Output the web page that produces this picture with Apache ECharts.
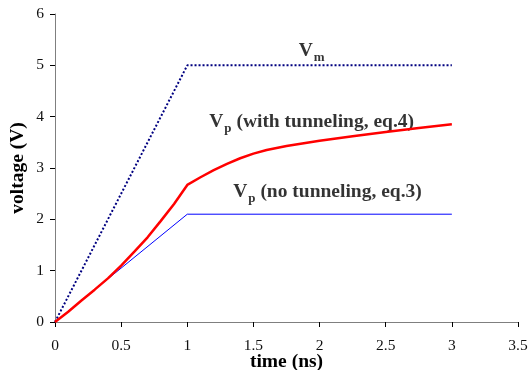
<!DOCTYPE html>
<html>
<head>
<meta charset="utf-8">
<script src="https://cdn.jsdelivr.net/npm/echarts@6/dist/echarts.min.js"></script>
<style>html,body{margin:0;padding:0;background:#fff;}#c{width:530px;height:370px;}</style>
</head>
<body>
<div id="c"></div>
<script>
var xTicks = [0, 0.5, 1, 1.5, 2, 2.5, 3, 3.5];
var yTicks = [0, 1, 2, 3, 4, 5, 6];

var vmX = [0, 1, 3];
var vmY = [0, 5, 5];

var vpNoX = [0, 1, 3];
var vpNoY = [0, 2.1, 2.1];

var vpTunX = [0, 0.1, 0.2, 0.3, 0.4, 0.5, 0.6, 0.7, 0.8, 0.9, 1.0, 1.1, 1.2, 1.3, 1.4, 1.5, 1.6, 1.75, 2.0, 2.25, 2.5, 2.75, 3.0];
var vpTunY = [0, 0.2, 0.42, 0.63, 0.85, 1.1, 1.37, 1.65, 1.97, 2.3, 2.67, 2.82, 2.96, 3.08, 3.19, 3.28, 3.35, 3.43, 3.53, 3.62, 3.70, 3.78, 3.85];

var annX = [1.94, 1.94, 2.06];
var annY = [5.28, 3.90, 2.53];
var annMain = ['V', 'V', 'V'];
var annSub = ['m', 'p', 'p'];
var annRest = ['', ' (with tunneling, eq.4)', ' (no tunneling, eq.3)'];

function zip(xs, ys) { return xs.map(function (x, i) { return [x, ys[i]]; }); }

var serif = '"Liberation Serif", "Times New Roman", serif';
var chart = echarts.init(document.getElementById('c'));
chart.setOption({
  animation: false,
  backgroundColor: '#fff',
  grid: { left: 55, right: 12, top: 14, bottom: 48, containLabel: false, outerBoundsMode: 'none' },
  xAxis: {
    type: 'value', min: 0, max: 3.5, interval: 0.5,
    name: 'time (ns)', nameLocation: 'middle', nameGap: 30, nameMoveOverlap: false,
    nameTextStyle: { fontFamily: serif, fontWeight: 'bold', fontSize: 19.5, color: '#000' },
    axisLine: { show: true, lineStyle: { color: '#7f7f7f', width: 1 } },
    axisTick: { show: true, length: 5, inside: false, lineStyle: { color: '#000' } },
    axisLabel: { fontFamily: serif, fontSize: 15.5, color: '#111', margin: 16,
      formatter: function (v) { return xTicks.indexOf(v) >= 0 ? String(v) : ''; } },
    splitLine: { show: false }
  },
  yAxis: {
    type: 'value', min: 0, max: 6, interval: 1,
    name: 'voltage (V)', nameLocation: 'middle', nameGap: 27, nameRotate: 90, nameMoveOverlap: false,
    nameTextStyle: { fontFamily: serif, fontWeight: 'bold', fontSize: 19.5, color: '#000' },
    axisLine: { show: true, lineStyle: { color: '#7f7f7f', width: 1 } },
    axisTick: { show: true, length: 5, inside: false, lineStyle: { color: '#000' } },
    axisLabel: { fontFamily: serif, fontSize: 15.5, color: '#111', margin: 11,
      formatter: function (v) { return yTicks.indexOf(v) >= 0 ? String(v) : ''; } },
    splitLine: { show: false }
  },
  series: [
    {
      type: 'line', data: zip(vmX, vmY), symbol: 'none',
      lineStyle: { color: '#000080', width: 2, type: [2, 2] }
    },
    {
      type: 'line', data: zip(vpNoX, vpNoY), symbol: 'none',
      lineStyle: { color: '#0000ff', width: 1 }
    },
    {
      type: 'line', data: zip(vpTunX, vpTunY), symbol: 'none',
      lineStyle: { color: '#ff0000', width: 2.5 }
    },
    {
      type: 'scatter', symbolSize: 0, silent: true,
      data: annX.map(function (x, i) { return { value: [x, annY[i]] }; }),
      label: {
        show: true, position: 'inside', align: 'center', verticalAlign: 'middle',
        formatter: function (p) {
          var i = p.dataIndex;
          return '{m|' + annMain[i] + '}{s|' + annSub[i] + '}' + (annRest[i] ? '{m|' + annRest[i] + '}' : '');
        },
        rich: {
          m: { fontFamily: serif, fontWeight: 'bold', fontSize: 19.5, color: '#000', lineHeight: 26, verticalAlign: 'middle' },
          s: { fontFamily: serif, fontWeight: 'bold', fontSize: 13, color: '#000', lineHeight: 26, verticalAlign: 'bottom', padding: [0, 0, 0, 1] }
        }
      }
    }
  ]
});
</script>
</body>
</html>
